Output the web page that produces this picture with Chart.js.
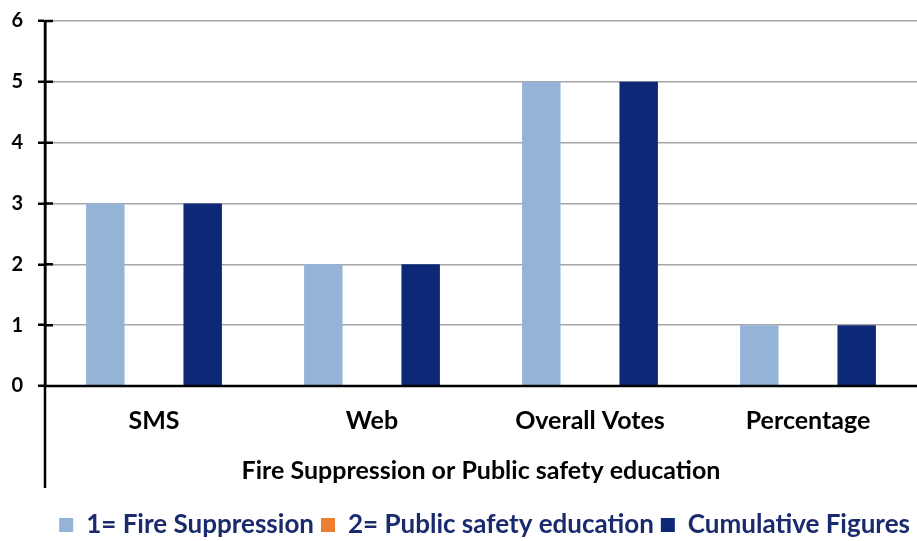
<!DOCTYPE html>
<html>
<head>
<meta charset="utf-8">
<script src="https://cdn.jsdelivr.net/npm/chart.js@4.4.0/dist/chart.umd.min.js"></script>
<style>
  html, body { margin: 0; padding: 0; background: #fff; }
  #wrap { width: 917px; height: 541px; }
</style>
</head>
<body>
<div id="wrap"><canvas id="chart"></canvas></div>
<script>
const categories = ["SMS", "Web", "Overall Votes", "Percentage"];
const fireSuppression = [3, 2, 5, 1];
const publicSafety = [0, 0, 0, 0];
const cumulative = [3, 2, 5, 1];
const yTicks = [0, 1, 2, 3, 4, 5, 6];

const font = "Lato, 'Open Sans', sans-serif";

// y axis runs on down through the label area, ticks cross the axis
const axisExtras = {
  id: "axisExtras",
  afterDraw(chart) {
    const { ctx, chartArea, scales: { x, y } } = chart;
    ctx.save();
    ctx.strokeStyle = "#000";
    ctx.lineWidth = 2.5;
    ctx.beginPath();
    ctx.moveTo(y.right, chartArea.top);
    ctx.lineTo(y.right, x.bottom);
    const zero = y.getPixelForValue(0);
    ctx.moveTo(chartArea.left, zero);
    ctx.lineTo(chartArea.right, zero);
    y.ticks.forEach(t => {
      const py = y.getPixelForValue(t.value);
      ctx.moveTo(y.right, py);
      ctx.lineTo(y.right + 8, py);
    });
    ctx.stroke();
    ctx.restore();
  }
};

new Chart(document.getElementById("chart"), {
  type: "bar",
  data: {
    labels: categories,
    datasets: [
      { label: "1= Fire Suppression", data: fireSuppression, backgroundColor: "#95b3d7" },
      { label: "2= Public safety education", data: publicSafety, backgroundColor: "#ed7d31" },
      { label: "Cumulative Figures", data: cumulative, backgroundColor: "#0e2878" }
    ]
  },
  options: {
    responsive: true,
    maintainAspectRatio: false,
    animation: false,
    layout: { padding: { top: 21, right: 0, left: 0, bottom: -7 } },
    datasets: { bar: { categoryPercentage: 0.67, barPercentage: 0.79 } },
    plugins: {
      tooltip: { enabled: false },
      legend: {
        position: "bottom",
        align: "end",
        // empty title only keeps a gap above the legend row
        title: { display: true, text: "", font: { size: 10 }, padding: { top: 0, bottom: 5 } },
        labels: {
          boxWidth: 14,
          boxHeight: 14,
          padding: 7,
          color: "#1a2b6d",
          font: { family: font, size: 26, weight: "bold" }
        }
      }
    },
    scales: {
      x: {
        grid: { display: false, drawTicks: false },
        border: { display: false },
        ticks: { color: "#000", padding: 20, font: { family: font, size: 25, weight: "bold" } },
        title: {
          display: true,
          text: "Fire Suppression or Public safety education",
          color: "#000",
          font: { family: font, size: 25, weight: "bold" },
          padding: { top: 10, bottom: 2 }
        },
        afterFit(scale) { scale.height = 102; }
      },
      y: {
        min: 0,
        max: 6,
        afterBuildTicks(scale) { scale.ticks = yTicks.map(v => ({ value: v })); },
        ticks: { color: "#000", padding: 15, font: { family: font, size: 20, weight: "bold" } },
        grid: { color: "#a6a6a6", lineWidth: 1.5, tickColor: "#000", tickLength: 7, tickWidth: 2.5 },
        border: { display: true, color: "#000", width: 2.5 },
        afterFit(scale) { scale.width = 45; scale.paddingTop = 0; }
      }
    }
  },
  plugins: [axisExtras]
});
</script>
</body>
</html>
